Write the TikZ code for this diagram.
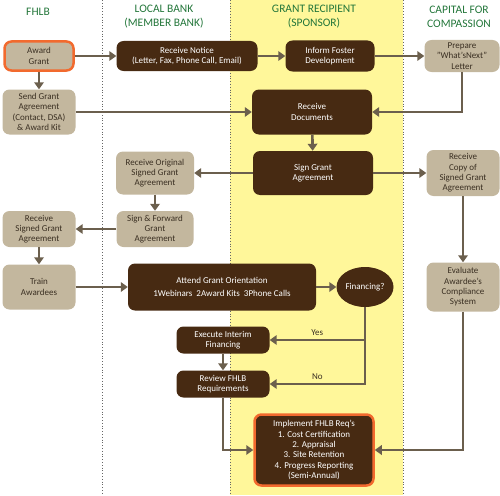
\documentclass[tikz,border=0pt]{standalone}
\usepackage{fontspec}
\setmainfont{Carlito}
\usetikzlibrary{arrows.meta,shapes.geometric}
\definecolor{brn}{HTML}{472A12}
\definecolor{tanfill}{HTML}{C3B79E}
\definecolor{orng}{HTML}{F26A2E}
\definecolor{lnc}{HTML}{6B5F4D}
\definecolor{ylw}{HTML}{FFF79A}
\definecolor{hdr}{HTML}{23763A}
\definecolor{tantxt}{HTML}{3A2F22}

\begin{document}
\begin{tikzpicture}[x=1pt, y=-1pt,
  dbox/.style={fill=brn, text=white, rounded corners=7pt, align=center,
    inner sep=1pt, font=\fontsize{9}{10.3}\selectfont},
  tbox/.style={fill=tanfill, text=tantxt, rounded corners=7pt, align=center,
    inner sep=1pt, font=\fontsize{9}{10.3}\selectfont},
  hot/.style={draw=orng, line width=2.5pt},
  arrow/.style={-{Triangle[length=7pt,width=9.5pt]}, draw=lnc, line width=2.6pt},
  title/.style={text=hdr, font=\fontsize{11.5}{14}\selectfont, align=center},
  lane/.style={draw=gray!80!black, dotted, line width=0.8pt},
  lbl/.style={text=tantxt, font=\fontsize{9}{10}\selectfont}
 ]
\useasboundingbox (0,0) rectangle (500,495);
\fill[ylw] (230,0) rectangle (403,495);
\draw[lane] (102,0) -- (102,495);
\draw[lane] (230,0) -- (230,495);
\draw[lane] (403,0) -- (403,495);

% lane headers
\node[title] (h1) at (38,12) {FHLB};
\node[title] (h2) at (164,17) {LOCAL BANK\\(MEMBER BANK)};
\node[title] (h3) at (314,17) {GRANT RECIPIENT\\(SPONSOR)};
\node[title] (h4) at (459,17) {CAPITAL FOR\\COMPASSION};

% FHLB
\node[tbox, hot, minimum width=69pt, minimum height=29pt] (award) at (39,56) {Award\\Grant};
\node[tbox, minimum width=73pt, minimum height=45pt] (send) at (39,112) {Send Grant\\Agreement\\(Contact, DSA)\\\& Award Kit};
\node[tbox, minimum width=73pt, minimum height=36pt] (rsigned) at (39,229) {Receive\\Signed Grant\\Agreement};
\node[tbox, minimum width=73pt, minimum height=45pt] (train) at (39,287) {Train\\Awardees};

% local bank
\node[dbox, minimum width=141pt, minimum height=30pt] (notice) at (187,56) {Receive Notice\\(Letter, Fax, Phone Call, Email)};
\node[tbox, minimum width=78pt, minimum height=43pt] (rorig) at (155,173) {Receive Original\\Signed Grant\\Agreement};
\node[tbox, minimum width=77pt, minimum height=36pt] (fwd) at (155,229) {Sign \& Forward\\Grant\\Agreement};
\node[dbox, minimum width=188pt, minimum height=47pt] (orient) at (222,287) {Attend Grant Orientation\\[3pt]1Webinars\ \ 2Award Kits\ \ 3Phone Calls};
\node[dbox, minimum width=93pt, minimum height=27pt] (exec) at (223,340) {Execute Interim\\Financing};
\node[dbox, minimum width=93pt, minimum height=27pt] (review) at (223,384) {Review FHLB\\Requirements};

% grant recipient
\node[dbox, minimum width=89pt, minimum height=31pt] (inform) at (330,56) {Inform Foster\\Development};
\node[dbox, minimum width=120pt, minimum height=45pt] (rdocs) at (312,112) {Receive\\Documents};
\node[dbox, minimum width=120pt, minimum height=44pt] (sign) at (313,173) {Sign Grant\\Agreement};
\node[dbox, ellipse, inner sep=0pt, minimum width=57pt, minimum height=40pt] (fin) at (365,287) {Financing?};
\node[dbox, hot, minimum width=119pt, minimum height=71pt] (impl) at (314,450) {Implement FHLB Req's\\1. Cost Certification\\2. Appraisal\\3. Site Retention\\4. Progress Reporting\\(Semi-Annual)};

% capital for compassion
\node[tbox, minimum width=75pt, minimum height=32pt] (prep) at (462,56) {Prepare\\"What'sNext"\\Letter};
\node[tbox, minimum width=73pt, minimum height=46pt] (rcopy) at (463,173) {Receive\\Copy of\\Signed Grant\\Agreement};
\node[tbox, minimum width=73pt, minimum height=49pt] (eval) at (463,287) {Evaluate\\Awardee's\\Compliance\\System};

% connectors
\draw[arrow] (award) -- (notice);
\draw[arrow] (award) -- (send);
\draw[arrow] (send) -- (rdocs);
\draw[arrow] (notice) -- (inform);
\draw[arrow] (inform) -- (prep);
\draw[arrow] (prep.south) |- (rdocs.east);
\draw[arrow] (rdocs) -- (sign);
\draw[arrow] (sign) -- (rcopy);
\draw[arrow] (sign) -- (rorig);
\draw[arrow] (rorig) -- (fwd);
\draw[arrow] (fwd) -- (rsigned);
\draw[arrow] (rsigned) -- (train);
\draw[arrow] (train) -- (orient);
\draw[arrow] (orient) -- (fin);
\draw[arrow] (fin.south) |- node[lbl, pos=0.75, above] {Yes} (exec.east);
\draw[arrow] (fin.south) |- node[lbl, pos=0.75, above] {No} (review.east);
\draw[arrow] (exec) -- (review);
\draw[arrow] (review.south) |- (impl.west);
\draw[arrow] (rcopy) -- (eval);
\draw[arrow] (eval.south) |- (impl.east);
\end{tikzpicture}
\end{document}
